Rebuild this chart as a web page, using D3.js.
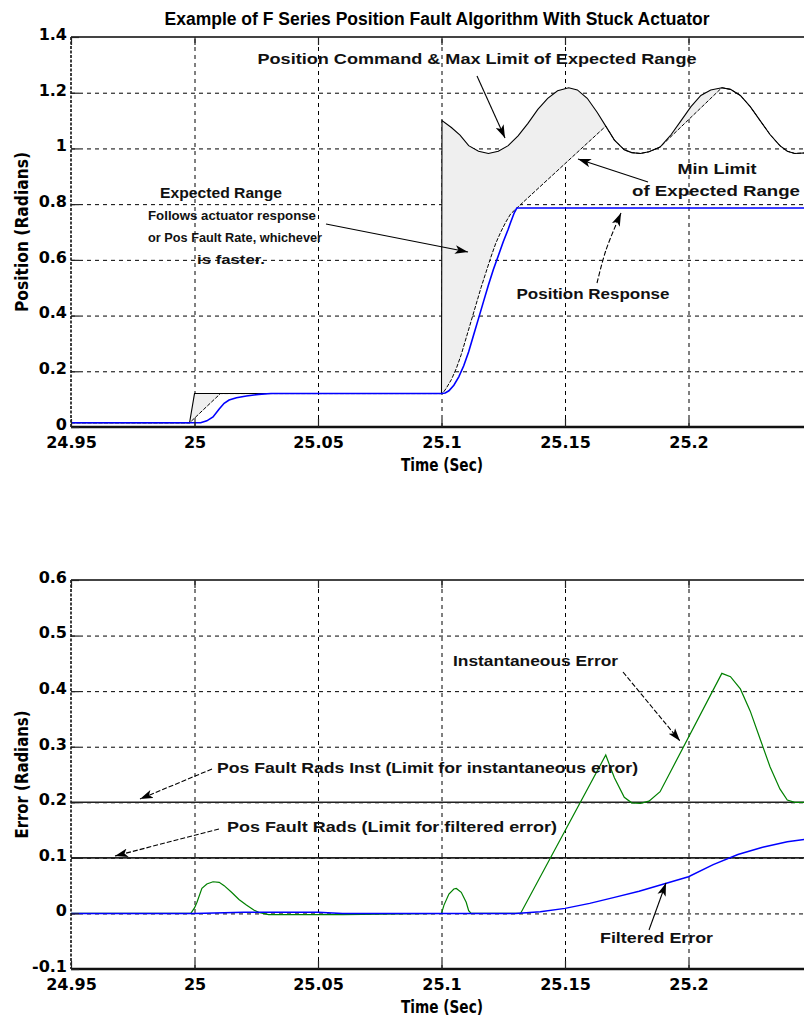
<!DOCTYPE html>
<html><head><meta charset="utf-8">
<script src="https://cdn.jsdelivr.net/npm/d3@7"></script>
<style>body{margin:0;background:#fff}</style>
</head><body><svg id="c" width="804" height="1021"></svg>
<script>
// ---------------- DATA ----------------
const title = "Example of F Series Position Fault Algorithm With Stuck Actuator";
const xTicks = [24.95, 25, 25.05, 25.1, 25.15, 25.2];
const xTickLabels = ["24.95", "25", "25.05", "25.1", "25.15", "25.2"];
const posTicks = [0, 0.2, 0.4, 0.6, 0.8, 1, 1.2, 1.4];
const posTickLabels = ["0", "0.2", "0.4", "0.6", "0.8", "1", "1.2", "1.4"];
const errTicks = [-0.1, 0, 0.1, 0.2, 0.3, 0.4, 0.5, 0.6];
const errTickLabels = ["-0.1", "0", "0.1", "0.2", "0.3", "0.4", "0.5", "0.6"];

// Position command (= max limit of expected range)
const cmdT = [24.95, 24.998, 25.0, 25.1, 25.1002, 25.104, 25.1075, 25.111, 25.115, 25.119, 25.123, 25.127, 25.131, 25.135, 25.139, 25.143, 25.147, 25.1515, 25.155, 25.159, 25.163, 25.1665, 25.170, 25.174, 25.177, 25.1805, 25.184, 25.1885, 25.193, 25.197, 25.201, 25.205, 25.209, 25.2135, 25.217, 25.221, 25.225, 25.229, 25.233, 25.237, 25.240, 25.243, 25.25];
const cmdV = [0.015, 0.015, 0.12, 0.12, 1.10, 1.075, 1.048, 1.01, 0.99, 0.982, 0.99, 1.01, 1.045, 1.09, 1.14, 1.18, 1.207, 1.218, 1.21, 1.18, 1.13, 1.08, 1.03, 0.995, 0.985, 0.982, 0.988, 1.005, 1.05, 1.10, 1.15, 1.19, 1.21, 1.218, 1.212, 1.19, 1.15, 1.10, 1.05, 1.01, 0.99, 0.982, 0.985];

// Min limit of expected range
const minT = [24.95, 24.998, 25.0105, 25.1, 25.1008, 25.102, 25.104, 25.106, 25.108, 25.110, 25.112, 25.114, 25.116, 25.118, 25.120, 25.122, 25.124, 25.126, 25.128, 25.1305, 25.1665, 25.170, 25.174, 25.177, 25.1805, 25.184, 25.1885, 25.2135, 25.217, 25.221, 25.225, 25.229, 25.233, 25.237, 25.240, 25.243, 25.25];
const minV = [0.015, 0.015, 0.12, 0.12, 0.125, 0.14, 0.17, 0.21, 0.26, 0.32, 0.38, 0.44, 0.50, 0.555, 0.61, 0.66, 0.70, 0.735, 0.765, 0.786, 1.08, 1.03, 0.995, 0.985, 0.982, 0.988, 1.005, 1.218, 1.212, 1.19, 1.15, 1.10, 1.05, 1.01, 0.99, 0.982, 0.985];

// Position response (actuator)
const respT = [24.95, 25.0025, 25.005, 25.0075, 25.010, 25.012, 25.014, 25.017, 25.021, 25.026, 25.031, 25.1, 25.1015, 25.103, 25.105, 25.107, 25.109, 25.111, 25.113, 25.115, 25.117, 25.119, 25.121, 25.123, 25.125, 25.127, 25.128, 25.1295, 25.1305, 25.25];
const respV = [0.015, 0.015, 0.022, 0.036, 0.065, 0.085, 0.097, 0.105, 0.111, 0.117, 0.12, 0.12, 0.122, 0.13, 0.15, 0.18, 0.22, 0.27, 0.33, 0.39, 0.45, 0.51, 0.565, 0.615, 0.665, 0.71, 0.735, 0.77, 0.786, 0.786];

// Instantaneous error
const instT = [24.95, 24.9985, 25.0, 25.001, 25.003, 25.005, 25.0075, 25.010, 25.012, 25.015, 25.018, 25.021, 25.024, 25.026, 25.03, 25.06, 25.1, 25.101, 25.103, 25.105, 25.106, 25.108, 25.110, 25.111, 25.112, 25.132, 25.1665, 25.170, 25.174, 25.177, 25.1805, 25.184, 25.1885, 25.2135, 25.217, 25.221, 25.225, 25.229, 25.233, 25.237, 25.240, 25.243, 25.25];
const instV = [0, 0, 0.01, 0.02, 0.045, 0.053, 0.057, 0.056, 0.05, 0.038, 0.025, 0.015, 0.006, 0.002, -0.002, -0.002, 0, 0.015, 0.035, 0.044, 0.045, 0.038, 0.02, 0.005, 0, 0, 0.285, 0.244, 0.209, 0.199, 0.198, 0.202, 0.219, 0.432, 0.426, 0.404, 0.364, 0.314, 0.264, 0.224, 0.204, 0.2, 0.2];

// Filtered error
const filtT = [24.95, 25.0, 25.02, 25.05, 25.06, 25.13, 25.14, 25.15, 25.16, 25.17, 25.18, 25.19, 25.20, 25.21, 25.22, 25.23, 25.24, 25.25];
const filtV = [0, 0, 0.002, 0.002, 0, 0, 0.003, 0.009, 0.018, 0.029, 0.04, 0.053, 0.066, 0.088, 0.106, 0.119, 0.129, 0.135];

// Limits (Pos Fault Rads Inst, Pos Fault Rads)
const limitLevels = [0.2, 0.1];

// ---------------- LAYOUT / STYLE ----------------
const TF = "'DejaVu Sans','Liberation Sans',sans-serif";
const SANS = "'Liberation Sans',Arial,sans-serif";
const W = 804, H = 1021;
const svg = d3.select("#c");
svg.append("rect").attr("width", W).attr("height", H).attr("fill", "#fff");
const defs = svg.append("defs");
defs.append("marker").attr("id", "ah").attr("viewBox", "0 0 12 8").attr("refX", 12).attr("refY", 4)
  .attr("markerWidth", 13).attr("markerHeight", 9).attr("markerUnits", "userSpaceOnUse").attr("orient", "auto")
  .append("path").attr("d", "M0,0 L12,4 L0,8 L3,4 Z").attr("fill", "#000");

const x = d3.scaleLinear().domain([24.95, 25.25]).range([71, 812]);
const yP = d3.scaleLinear().domain([0, 1.4]).range([427, 37]);
const yE = d3.scaleLinear().domain([-0.1, 0.6]).range([969, 580]);

const zip = (T, V) => T.map((t, i) => ({ t, v: V[i] }));

function panel(y, yTicks, yLabels, ylab, ylabLen) {
  const [yb, yt] = y.range();
  const L = 71, R = 812;
  const grid = svg.append("g");
  grid.append("g").attr("transform", `translate(0,${yb})`)
    .call(d3.axisBottom(x).tickValues(xTicks.slice(1)).tickSize(-(yb - yt)).tickFormat(""))
    .call(s => { s.select(".domain").remove(); s.selectAll("line").attr("stroke", "#000").attr("stroke-width", 1).attr("stroke-dasharray", "4,4"); });
  grid.append("g").attr("transform", `translate(${L},0)`)
    .call(d3.axisLeft(y).tickValues(yTicks.slice(1, -1)).tickSize(-(R - L)).tickFormat(""))
    .call(s => { s.select(".domain").remove(); s.selectAll("line").attr("stroke", "#000").attr("stroke-width", 1).attr("stroke-dasharray", "4,4"); });
  const data = svg.append("g");
  const ax = svg.append("g");
  ax.append("line").attr("x1", L).attr("x2", W).attr("y1", yt).attr("y2", yt).attr("stroke", "#444").attr("stroke-width", 2);
  ax.append("line").attr("x1", L).attr("x2", W).attr("y1", yb).attr("y2", yb).attr("stroke", "#111").attr("stroke-width", 2.5);
  ax.append("line").attr("x1", L).attr("x2", L).attr("y1", yt).attr("y2", yb).attr("stroke", "#000").attr("stroke-width", 1.5).attr("stroke-dasharray", "3,1.5");
  ax.append("g").attr("transform", `translate(0,${yb})`)
    .call(d3.axisBottom(x).tickValues(xTicks).tickSize(-8).tickFormat(""))
    .call(s => { s.select(".domain").remove(); s.selectAll("line").attr("stroke", "#222").attr("stroke-width", 1.2); });
  ax.append("g").attr("transform", `translate(0,${yt})`)
    .call(d3.axisTop(x).tickValues(xTicks).tickSize(-8).tickFormat(""))
    .call(s => { s.select(".domain").remove(); s.selectAll("line").attr("stroke", "#222").attr("stroke-width", 1.2); });
  ax.append("g").attr("transform", `translate(${L},0)`)
    .call(d3.axisLeft(y).tickValues(yTicks).tickSize(-8).tickFormat(""))
    .call(s => { s.select(".domain").remove(); s.selectAll("line").attr("stroke", "#222").attr("stroke-width", 1.2); });
  ax.append("g").attr("transform", `translate(0,${yb})`)
    .call(d3.axisBottom(x).tickValues(xTicks).tickSize(0).tickPadding(10).tickFormat((d, i) => xTickLabels[i]))
    .call(s => { s.select(".domain").remove(); s.selectAll("text").attr("font-family", TF).attr("font-weight", "bold").attr("font-size", 16).attr("fill", "#000"); });
  ax.append("g").attr("transform", `translate(${L},0)`)
    .call(d3.axisLeft(y).tickValues(yTicks).tickSize(0).tickPadding(4).tickFormat((d, i) => yLabels[i]))
    .call(s => { s.select(".domain").remove(); s.selectAll("text").attr("dy", "0.15em").attr("font-family", TF).attr("font-weight", "bold").attr("font-size", 16).attr("fill", "#000"); });
  ax.append("text").attr("x", 442).attr("y", yb + 44).attr("text-anchor", "middle")
    .attr("font-family", TF).attr("font-weight", "bold").attr("font-size", 17)
    .attr("textLength", 82).attr("lengthAdjust", "spacingAndGlyphs").text("Time (Sec)");
  ax.append("text").attr("transform", `translate(28,${(yb + yt) / 2}) rotate(-90)`).attr("text-anchor", "middle")
    .attr("font-family", TF).attr("font-weight", "bold").attr("font-size", 17)
    .attr("textLength", ylabLen).attr("lengthAdjust", "spacingAndGlyphs").text(ylab);
  return { data, ax };
}

// ---------------- TOP PANEL ----------------
const topPanel = panel(yP, posTicks, posTickLabels, "Position (Radians)", 160);
const lineP = d3.line().x(d => x(d.t)).y(d => yP(d.v));
const cmdPts = zip(cmdT, cmdV), minPts = zip(minT, minV), respPts = zip(respT, respV);
topPanel.data.append("path").attr("d", lineP(cmdPts.concat(minPts.slice().reverse())) + "Z")
  .attr("fill", "#efefef").attr("stroke", "none");
topPanel.data.append("path").attr("d", lineP(minPts)).attr("fill", "none").attr("stroke", "#000").attr("stroke-width", 1).attr("stroke-dasharray", "4,1.5");
topPanel.data.append("path").attr("d", lineP(cmdPts)).attr("fill", "none").attr("stroke", "#000").attr("stroke-width", 1.1);
topPanel.data.append("path").attr("d", lineP(respPts)).attr("fill", "none").attr("stroke", "#0000ff").attr("stroke-width", 1.6);

// ---------------- BOTTOM PANEL ----------------
const botPanel = panel(yE, errTicks, errTickLabels, "Error (Radians)", 128);
const lineE = d3.line().x(d => x(d.t)).y(d => yE(d.v));
botPanel.data.selectAll("line.lim").data(limitLevels).join("line").attr("class", "lim")
  .attr("x1", 71).attr("x2", W).attr("y1", d => yE(d)).attr("y2", d => yE(d)).attr("stroke", "#222").attr("stroke-width", 1.6);
botPanel.data.append("path").attr("d", lineE(zip(instT, instV))).attr("fill", "none").attr("stroke", "#008000").attr("stroke-width", 1.2);
botPanel.data.append("path").attr("d", lineE(zip(filtT, filtV))).attr("fill", "none").attr("stroke", "#0000ff").attr("stroke-width", 1.4);

// ---------------- TEXTS & ARROWS ----------------
svg.append("text").attr("x", 437).attr("y", 25).attr("text-anchor", "middle")
  .attr("font-family", SANS).attr("font-weight", "bold").attr("font-size", 17.5).text(title);

const notes = [
  { s: "Position Command & Max Limit of Expected Range", x: 477, y: 64, a: "middle", w: 439, f: 15 },
  { s: "Expected Range", x: 221, y: 198, a: "middle", w: 122, f: 15 },
  { s: "Follows actuator response", x: 232, y: 220, a: "middle", w: 168, f: 13.5 },
  { s: "or Pos Fault Rate, whichever", x: 235, y: 242, a: "middle", w: 174, f: 13.5 },
  { s: "is faster.", x: 231, y: 264, a: "middle", w: 68, f: 13.5 },
  { s: "Min Limit", x: 717, y: 174, a: "middle", w: 79, f: 15 },
  { s: "of Expected Range", x: 716, y: 196, a: "middle", w: 168, f: 15 },
  { s: "Position Response", x: 593, y: 299, a: "middle", w: 153, f: 15 },
  { s: "Instantaneous Error", x: 453, y: 666, a: "start", w: 165, f: 15 },
  { s: "Pos Fault Rads Inst (Limit for instantaneous error)", x: 217, y: 773, a: "start", w: 421, f: 15 },
  { s: "Pos Fault Rads (Limit for filtered error)", x: 227, y: 832, a: "start", w: 330, f: 15 },
  { s: "Filtered Error", x: 600, y: 943, a: "start", w: 113, f: 15 }
];
svg.append("g").selectAll("text").data(notes).join("text")
  .attr("x", d => d.x).attr("y", d => d.y).attr("text-anchor", d => d.a)
  .attr("font-family", SANS).attr("font-weight", "bold").attr("font-size", d => d.f)
  .attr("textLength", d => d.w).attr("lengthAdjust", "spacingAndGlyphs")
  .attr("fill", "#111").text(d => d.s);

const arrows = [
  { p: [[477, 76], [505, 138]], dash: null },
  { p: [[648, 182], [578, 159]], dash: null },
  { p: [[326, 224], [468, 252]], dash: null },
  { p: [[597, 283], [606, 250], [621, 213]], dash: "5,2" },
  { p: [[623, 672], [680, 741]], dash: "5,2" },
  { p: [[212, 769], [140, 799]], dash: "5,2" },
  { p: [[219, 829], [115, 856]], dash: "5,2" },
  { p: [[649, 930], [666, 883]], dash: null }
];
const aLine = d3.line().curve(d3.curveCatmullRom);
svg.append("g").selectAll("path").data(arrows).join("path")
  .attr("d", d => aLine(d.p)).attr("fill", "none").attr("stroke", "#000").attr("stroke-width", 1.1)
  .attr("stroke-dasharray", d => d.dash).attr("marker-end", "url(#ah)");
</script>
</body></html>
